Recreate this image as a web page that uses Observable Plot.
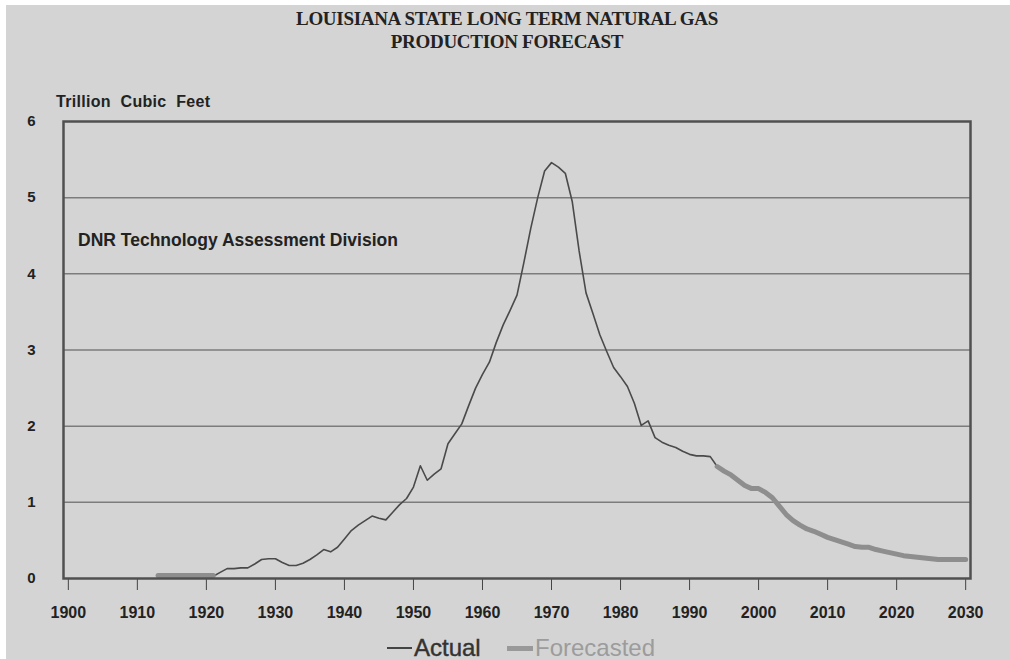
<!DOCTYPE html>
<html><head><meta charset="utf-8">
<script src="https://cdn.jsdelivr.net/npm/d3@7"></script>
<script src="https://cdn.jsdelivr.net/npm/@observablehq/plot@0.6"></script>
<style>
html,body{margin:0;padding:0;background:#fff;width:1010px;height:659px;overflow:hidden;}
#bg{position:absolute;left:6px;top:5px;width:1004px;height:654px;background:#d4d4d4;}
#chart{position:absolute;left:0;top:0;}
.t{position:absolute;white-space:nowrap;}
#title{left:0;width:1014px;top:7px;text-align:center;font-family:"Liberation Serif","Times New Roman",serif;font-weight:bold;font-size:19px;line-height:23px;color:#222;letter-spacing:-0.3px;}
#ylab{left:56px;top:93px;font-family:"Liberation Sans",Arial,sans-serif;font-weight:bold;font-size:16px;color:#222;word-spacing:5px;letter-spacing:0.3px;}
#legend{left:0;top:630px;width:1010px;height:29px;font-family:"Liberation Sans",Arial,sans-serif;font-size:24px;}
.sw{position:absolute;}
</style></head>
<body>
<div id="bg"></div>
<div id="chart"></div>
<div class="t" id="title">LOUISIANA STATE LONG TERM NATURAL GAS<br>PRODUCTION FORECAST</div>
<div class="t" id="ylab">Trillion Cubic Feet</div>
<div class="t" id="legend">
  <div class="sw" style="left:387px;top:17px;width:25px;height:2px;background:#444;"></div>
  <div class="t" style="left:414px;top:4px;color:#333;font-weight:500;-webkit-text-stroke:0.4px #333;">Actual</div>
  <div class="sw" style="left:507px;top:16px;width:26px;height:5px;background:#999;"></div>
  <div class="t" style="left:535px;top:4px;color:#9c9c9c;">Forecasted</div>
</div>
<script>
// ---- data (Trillion Cubic Feet) ----
const actualYears = [1921,1922,1923,1924,1925,1926,1927,1928,1929,1930,1931,1932,1933,1934,1935,1936,1937,1938,1939,1940,
  1941,1942,1943,1944,1945,1946,1947,1948,1949,1950,1951,1952,1953,1954,1955,1956,1957,1958,1959,1960,
  1961,1962,1963,1964,1965,1966,1967,1968,1969,1970,1971,1972,1973,1974,1975,1976,1977,1978,1979,1980,
  1981,1982,1983,1984,1985,1986,1987,1988,1989,1990,1991,1992,1993,1994];
const actualValues = [0.03,0.08,0.13,0.13,0.14,0.14,0.19,0.25,0.26,0.26,0.21,0.17,0.17,0.20,0.25,0.31,0.38,0.35,0.41,0.52,
  0.63,0.70,0.76,0.82,0.79,0.77,0.87,0.97,1.05,1.20,1.48,1.29,1.37,1.44,1.77,1.90,2.03,2.27,2.50,2.68,
  2.84,3.10,3.33,3.52,3.72,4.15,4.60,5.00,5.35,5.46,5.40,5.32,4.95,4.30,3.75,3.48,3.20,2.98,2.77,2.65,
  2.52,2.30,2.01,2.07,1.85,1.79,1.75,1.72,1.67,1.63,1.61,1.61,1.60,1.47];
const forecastYears = [1913,1921, 1994,1995,1996,1997,1998,1999,2000,2001,2002,2003,2004,2005,2006,2007,2008,2009,2010,
  2011,2012,2013,2014,2015,2016,2017,2018,2019,2020,2021,2022,2023,2024,2025,2026,2027,2028,2029,2030];
const forecastValues = [0.04,0.04, 1.47,1.41,1.36,1.29,1.22,1.18,1.18,1.13,1.06,0.95,0.84,0.76,0.70,0.65,0.62,0.58,0.54,
  0.51,0.48,0.45,0.42,0.41,0.41,0.38,0.36,0.34,0.32,0.30,0.29,0.28,0.27,0.26,0.25,0.25,0.25,0.25,0.25];
const forecastSegment = [0,0, 1,1,1,1,1,1,1,1,1,1,1,1,1,1,1,1,1,1,1,1,1,1,1,1,1,1,1,1,1,1,1,1,1,1,1,1,1];
const xTicks = [1900,1910,1920,1930,1940,1950,1960,1970,1980,1990,2000,2010,2020,2030];
const yTicks = [0,1,2,3,4,5,6];
const gridValues = [1,2,3,4,5];
const note = "DNR Technology Assessment Division";

const actual = actualYears.map((y,i)=>({year:y, value:actualValues[i]}));
const forecast = forecastYears.map((y,i)=>({year:y, value:forecastValues[i], seg:forecastSegment[i]}));

const chart = Plot.plot({
  width: 1010,
  height: 659,
  marginLeft: 63,
  marginRight: 40,
  marginTop: 121,
  marginBottom: 81,
  style: {background: "transparent", fontFamily: "'Liberation Sans', Arial, sans-serif", color: "#222"},
  x: {domain: [1899.3, 2030.7]},
  y: {domain: [0, 6]},
  marks: [
    Plot.ruleY(gridValues, {stroke: "#7c7c7c", strokeWidth: 1.5}),
    Plot.line(actual, {x: "year", y: "value", stroke: "#4a4a4a", strokeWidth: 1.6}),
    Plot.line(forecast, {x: "year", y: "value", z: "seg", stroke: "#8e8e8e", strokeWidth: 5}),
    Plot.text([note], {x: 1901.4, y: 4.44, text: d => d, textAnchor: "start", fontSize: 17.5, fontWeight: "bold", fill: "#222"}),
    Plot.axisX({ticks: xTicks, tickFormat: d => String(d), tickSize: 12, tickPadding: 16, fontSize: 16, fontWeight: "bold", stroke: "#444", label: null}),
    Plot.axisY({ticks: yTicks, tickFormat: d => String(d), tickSize: 0, tickPadding: 28, fontSize: 15, fontWeight: "bold", label: null}),
    Plot.frame({stroke: "#505050", strokeWidth: 2.5})
  ]
});
document.getElementById("chart").appendChild(chart);
</script>
</body></html>
